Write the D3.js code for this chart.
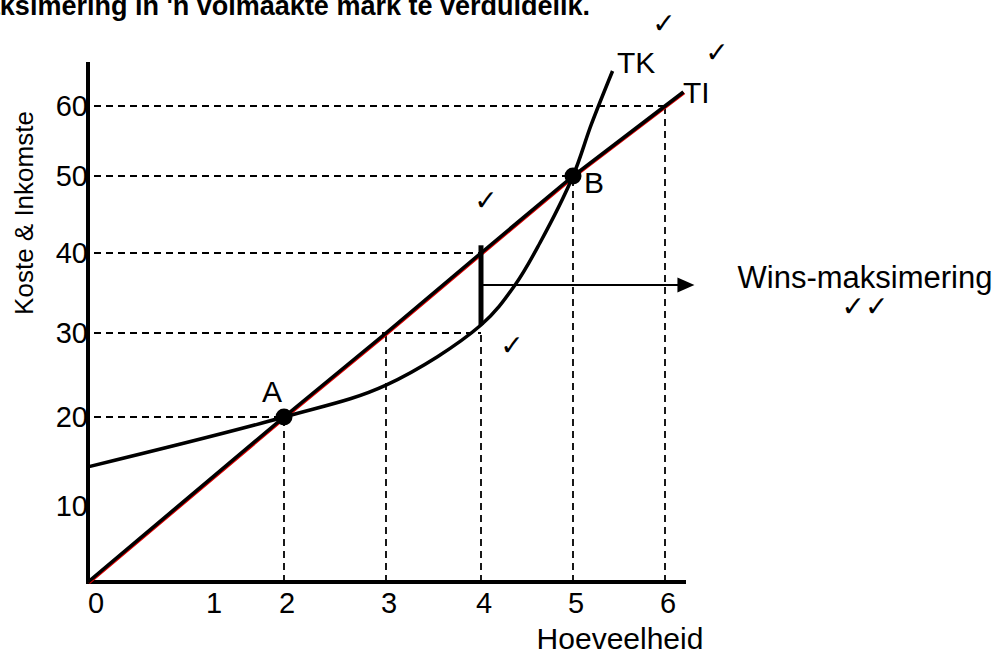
<!DOCTYPE html>
<head>
    <meta charset="utf-8">
    <script src="https://d3js.org/d3.v7.min.js"></script>
    <style>
        body { margin: 0; background: #fff; }
        svg { display: block; font-family: "Liberation Sans", Arial, Helvetica, sans-serif; }
        .guide { stroke: #000; stroke-width: 1.8; stroke-dasharray: 7,5; fill: none; }
        .tick-label { font-size: 29px; }
        .check { font-family: "DejaVu Sans", sans-serif; font-size: 28px; }
    </style>
</head>
<body>
<svg id="chart" width="1005" height="654"></svg>
<script>
// hand drawn sketch, so the axes are not evenly spaced
const xTicks = [0, 1, 2, 3, 4, 5, 6];
const yTicks = [10, 20, 30, 40, 50, 60];

// total income (TI) and total cost (TK)
const tiQ = [0, 2, 3, 4, 5, 6, 6.2];
const tiVal = [0, 20, 30, 40, 50, 60, 62];
const tkQ = [0, 2, 3, 4, 4.37, 4.64, 5, 5.2, 5.43];
const tkVal = [14.4, 20, 23.8, 31, 36, 41.3, 50, 57.4, 65];

// dashed helper lines
const vGuideQ = [2, 3, 4, 5, 6];
const vGuideV = [20, 30, 30, 50, 60];
const hGuideV = [20, 30, 40, 50, 60];
const hGuideQ = [2, 4, 4, 5, 6];

const points = [{name: "A", q: 2, v: 20}, {name: "B", q: 5, v: 50}];
const profitQ = 4, profitLow = 31, profitHigh = 41, arrowV = 36, arrowEnd = 6.32;

const svg = d3.select("#chart");

const x = d3.scaleLinear().domain(xTicks).range([88, 211, 284, 386, 481, 573, 665]);
const y = d3.scaleLinear().domain([0, 10, 20, 30, 40, 50, 60]).range([582, 506, 417, 333, 253, 176, 106]);

// title, cut off at the top of the page
svg.append("text")
    .attr("x", 590).attr("y", 15)
    .attr("text-anchor", "end")
    .style("font-size", "27px").style("font-weight", "bold")
    .text("Wins-maksimering in 'n volmaakte mark te verduidelik.");

// dashed lines
svg.append("g").selectAll("line").data(vGuideQ).enter().append("line")
    .attr("class", "guide")
    .attr("x1", d => x(d)).attr("x2", d => x(d))
    .attr("y1", y(0)).attr("y2", (d, i) => y(vGuideV[i]));
svg.append("g").selectAll("line").data(hGuideV).enter().append("line")
    .attr("class", "guide")
    .attr("y1", d => y(d)).attr("y2", d => y(d))
    .attr("x1", x(0) + 6).attr("x2", (d, i) => x(hGuideQ[i]));

// axes
svg.append("line").attr("x1", x(0)).attr("x2", x(0))
    .attr("y1", y(0) + 2).attr("y2", 62)
    .attr("stroke", "#000").attr("stroke-width", 4);
svg.append("line").attr("x1", x(0)).attr("x2", 686)
    .attr("y1", y(0)).attr("y2", y(0))
    .attr("stroke", "#000").attr("stroke-width", 4);

svg.append("g").selectAll("text").data(xTicks).enter().append("text")
    .attr("class", "tick-label")
    .attr("x", d => x(d) + (d === 0 ? 8 : 3))
    .attr("y", 613)
    .attr("text-anchor", "middle")
    .text(d => d);
svg.append("g").selectAll("text").data(yTicks).enter().append("text")
    .attr("class", "tick-label")
    .attr("x", x(0))
    .attr("y", d => y(d) + 10)
    .attr("text-anchor", "end")
    .text(d => d);

svg.append("text")
    .attr("transform", "translate(33," + 213 + ") rotate(-90)")
    .attr("text-anchor", "middle")
    .style("font-size", "26px")
    .text("Koste & Inkomste");
svg.append("text")
    .attr("x", 620).attr("y", 649)
    .attr("text-anchor", "middle")
    .style("font-size", "30px")
    .text("Hoeveelheid");

// TI line (with the faint red edge)
const tiLine = d3.line().x((d, i) => x(tiQ[i])).y(d => y(d));
svg.append("path").datum(tiVal)
    .attr("d", tiLine)
    .attr("transform", "translate(0.9,0.9)")
    .attr("fill", "none").attr("stroke", "#d00").attr("stroke-width", 3);
svg.append("path").datum(tiVal)
    .attr("d", tiLine)
    .attr("fill", "none").attr("stroke", "#000").attr("stroke-width", 3.5);

// TK curve
const tkLine = d3.line().x((d, i) => x(tkQ[i])).y(d => y(d)).curve(d3.curveCatmullRom);
svg.append("path").datum(tkVal)
    .attr("d", tkLine)
    .attr("fill", "none").attr("stroke", "#000").attr("stroke-width", 3.5);

// profit gap and arrow
svg.append("line")
    .attr("x1", x(profitQ)).attr("x2", x(profitQ))
    .attr("y1", y(profitLow)).attr("y2", y(profitHigh))
    .attr("stroke", "#000").attr("stroke-width", 5);
svg.append("line")
    .attr("x1", x(profitQ)).attr("x2", x(arrowEnd) - 14)
    .attr("y1", y(arrowV)).attr("y2", y(arrowV))
    .attr("stroke", "#000").attr("stroke-width", 2);
svg.append("path")
    .attr("d", "M" + x(arrowEnd) + "," + y(arrowV) + "l-17,-7.5v15z")
    .attr("fill", "#000");

// points A and B
svg.append("g").selectAll("circle").data(points).enter().append("circle")
    .attr("cx", d => x(d.q)).attr("cy", d => y(d.v)).attr("r", 8.5)
    .attr("fill", "#000");
svg.append("g").selectAll("text").data(points).enter().append("text")
    .attr("x", d => d.name === "A" ? x(d.q) - 22 : x(d.q) + 11)
    .attr("y", d => d.name === "A" ? y(d.v) - 15 : y(d.v) + 17)
    .style("font-size", "30px")
    .text(d => d.name);

// curve labels
svg.append("text").attr("x", 617).attr("y", 73).style("font-size", "30px").text("TK");
svg.append("text").attr("x", 683).attr("y", 103).style("font-size", "30px").text("TI");

svg.append("text")
    .attr("x", 865).attr("y", 288)
    .attr("text-anchor", "middle")
    .style("font-size", "31px")
    .text("Wins-maksimering");

// marking ticks
const checks = [
    {x: 664, y: 33, t: "\u2713"},
    {x: 717, y: 62, t: "\u2713"},
    {x: 486, y: 210, t: "\u2713"},
    {x: 512, y: 355, t: "\u2713"},
    {x: 865, y: 316, t: "\u2713\u2713"}
];
svg.append("g").selectAll("text").data(checks).enter().append("text")
    .attr("class", "check")
    .attr("x", d => d.x).attr("y", d => d.y)
    .attr("text-anchor", "middle")
    .text(d => d.t);
</script>
</body>
